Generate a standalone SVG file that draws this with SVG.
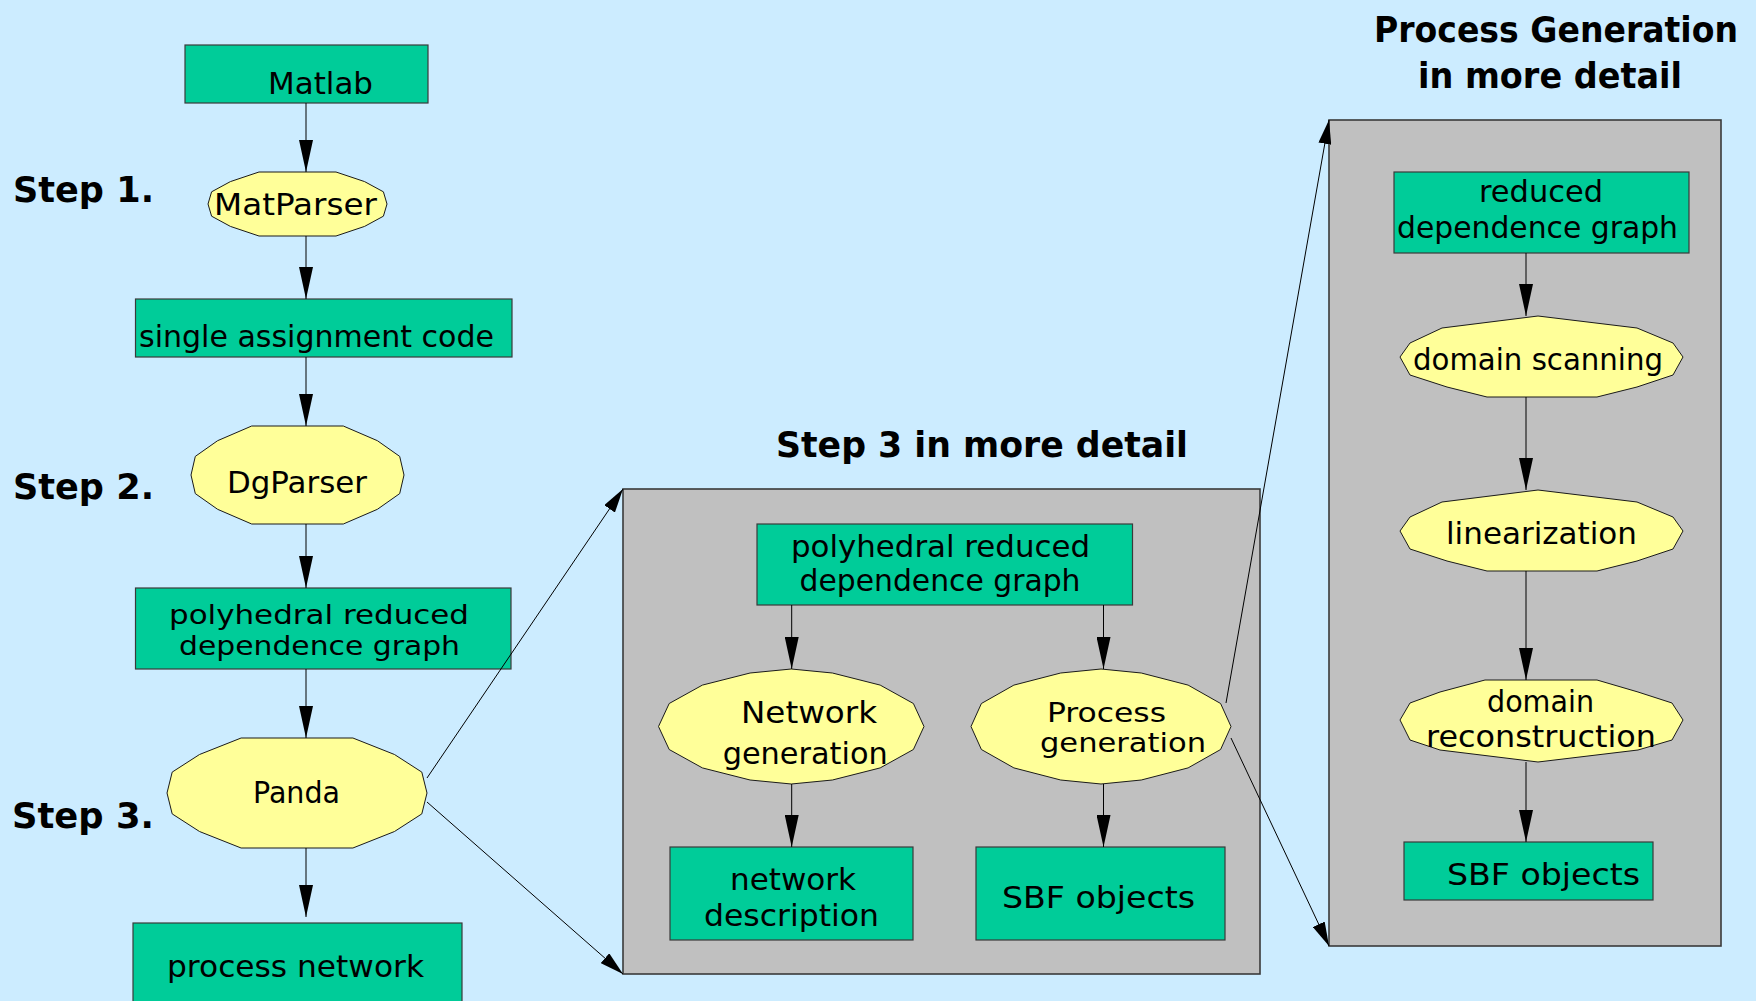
<svg xmlns="http://www.w3.org/2000/svg" width="1756" height="1001" viewBox="0 0 1756 1001">
  <style>
    .bg { fill: #ccecff; }
    .data { fill: #00cc99; stroke: #3a3a3a; stroke-width: 1.2; }
    .tool { fill: #ffff99; stroke: #1a1a1a; stroke-width: 1; }
    .panel { fill: #c0c0c0; stroke: #3a3a3a; stroke-width: 1.6; }
    .lbl { font-family: "Comic Sans MS", "DejaVu Sans", sans-serif; font-size: 30px; fill: #000; }
    .tight { font-size: 27px; }
    .head { font-family: "Comic Sans MS", "DejaVu Sans", sans-serif; font-size: 35px; font-weight: bold; fill: #000; }
    .edge { stroke: #000; stroke-width: 1; fill: none; marker-end: url(#ah); }
    .zoom { stroke: #000; stroke-width: 1; fill: none; marker-end: url(#ahs); }
  </style>
  <defs>
    <marker id="ah" viewBox="0 0 32 14" refX="32" refY="7" markerWidth="32" markerHeight="14" markerUnits="userSpaceOnUse" orient="auto">
      <path d="M0,0 L32,7 L0,14 z" fill="#000"/>
    </marker>
    <marker id="ahs" viewBox="0 0 24 13" refX="24" refY="6.5" markerWidth="24" markerHeight="13" markerUnits="userSpaceOnUse" orient="auto">
      <path d="M0,0 L24,6.5 L0,13 z" fill="#000"/>
    </marker>
  </defs>

  <rect class="bg" x="0" y="0" width="1756" height="1001"/>

  <!-- step labels and headings -->
  <text class="head" x="13" y="202" textLength="141" lengthAdjust="spacingAndGlyphs">Step 1.</text>
  <text class="head" x="13" y="499" textLength="141" lengthAdjust="spacingAndGlyphs">Step 2.</text>
  <text class="head" x="12" y="828" textLength="142" lengthAdjust="spacingAndGlyphs">Step 3.</text>
  <text class="head" x="776" y="457" textLength="412" lengthAdjust="spacingAndGlyphs">Step 3 in more detail</text>
  <text class="head" x="1374" y="42" font-size="36" textLength="364" lengthAdjust="spacingAndGlyphs">Process Generation</text>
  <text class="head" x="1418" y="88" font-size="36" textLength="264" lengthAdjust="spacingAndGlyphs">in more detail</text>

  <!-- detail panels -->
  <g id="panel-step3">
    <rect class="panel" x="623" y="489" width="637" height="485"/>
  </g>
  <g id="panel-procgen">
    <rect class="panel" x="1329" y="120" width="392" height="826"/>
  </g>

  <!-- main flow -->
  <g id="matlab">
    <rect class="data" x="185" y="45" width="243" height="58"/>
    <text class="lbl" x="268" y="94" textLength="105" lengthAdjust="spacingAndGlyphs">Matlab</text>
  </g>
  <g id="matparser">
    <polygon class="tool" points="387,204 383.4,216.2 364.6,226.4 336,236 259,236 230.4,226.4 211.6,216.2 208,204 211.6,191.8 230.4,181.6 259,172 336,172 364.6,181.6 383.4,191.8"/>
    <text class="lbl" x="214" y="215" textLength="163" lengthAdjust="spacingAndGlyphs">MatParser</text>
  </g>
  <g id="sac">
    <rect class="data" x="135.5" y="299" width="376.5" height="58"/>
    <text class="lbl" x="139" y="347" textLength="355" lengthAdjust="spacingAndGlyphs">single assignment code</text>
  </g>
  <g id="dgparser">
    <polygon class="tool" points="404,475 399.7,493.6 377.4,509.3 343.3,524 251.7,524 217.6,509.3 195.3,493.6 191,475 195.3,456.4 217.6,440.7 251.7,426 343.3,426 377.4,440.7 399.7,456.4"/>
    <text class="lbl" x="227" y="493" textLength="140" lengthAdjust="spacingAndGlyphs">DgParser</text>
  </g>
  <g id="prdg">
    <rect class="data" x="135.5" y="588" width="375.5" height="81"/>
    <text class="lbl tight" x="169" y="624" textLength="300" lengthAdjust="spacingAndGlyphs">polyhedral reduced</text>
    <text class="lbl tight" x="179" y="655" textLength="281" lengthAdjust="spacingAndGlyphs">dependence graph</text>
  </g>
  <g id="panda">
    <polygon class="tool" points="427,793 421.8,813.9 394.5,831.5 352.9,848 241.1,848 199.5,831.5 172.2,813.9 167,793 172.2,772.1 199.5,754.5 241.1,738 352.9,738 394.5,754.5 421.8,772.1"/>
    <text class="lbl" x="253" y="803" textLength="87" lengthAdjust="spacingAndGlyphs">Panda</text>
  </g>
  <g id="process-network">
    <rect class="data" x="133" y="923" width="329" height="90"/>
    <text class="lbl" x="167" y="977" textLength="257" lengthAdjust="spacingAndGlyphs">process network</text>
  </g>

  <!-- step 3 detail -->
  <g id="s3-prdg">
    <rect class="data" x="757" y="524" width="375.5" height="81"/>
    <text class="lbl" x="791" y="557" textLength="299" lengthAdjust="spacingAndGlyphs">polyhedral reduced</text>
    <text class="lbl" x="799.5" y="591" textLength="281" lengthAdjust="spacingAndGlyphs">dependence graph</text>
  </g>
  <g id="s3-netgen">
    <polygon class="tool" points="924,726.5 913.4,749.5 880.2,767.9 832.4,780 791.3,784 750.1,780 702.4,767.9 669.2,749.5 658.5,726.5 669.2,703.5 702.4,685.1 750.1,673 791.3,669 832.4,673 880.2,685.1 913.4,703.5"/>
    <text class="lbl" x="741" y="723" textLength="136" lengthAdjust="spacingAndGlyphs">Network</text>
    <text class="lbl" x="722.7" y="764" textLength="165" lengthAdjust="spacingAndGlyphs">generation</text>
  </g>
  <g id="s3-procgen">
    <polygon class="tool" points="1231,726.5 1220.6,749.5 1188.1,767.9 1141.3,780 1101,784 1060.7,780 1013.9,767.9 981.4,749.5 971,726.5 981.4,703.5 1013.9,685.1 1060.7,673 1101,669 1141.3,673 1188.1,685.1 1220.6,703.5"/>
    <text class="lbl tight" x="1047" y="722" textLength="119" lengthAdjust="spacingAndGlyphs">Process</text>
    <text class="lbl tight" x="1040" y="752" textLength="166" lengthAdjust="spacingAndGlyphs">generation</text>
  </g>
  <g id="s3-netdesc">
    <rect class="data" x="670" y="847" width="243" height="93"/>
    <text class="lbl" x="730" y="890" textLength="126" lengthAdjust="spacingAndGlyphs">network</text>
    <text class="lbl" x="704" y="925.5" textLength="175" lengthAdjust="spacingAndGlyphs">description</text>
  </g>
  <g id="s3-sbf">
    <rect class="data" x="976" y="847" width="249" height="93"/>
    <text class="lbl" x="1002" y="908" textLength="193" lengthAdjust="spacingAndGlyphs">SBF objects</text>
  </g>

  <!-- process generation detail -->
  <g id="pg-rdg">
    <rect class="data" x="1394" y="172" width="295" height="81"/>
    <text class="lbl" x="1479" y="202" textLength="124" lengthAdjust="spacingAndGlyphs">reduced</text>
    <text class="lbl" x="1397" y="238" textLength="281" lengthAdjust="spacingAndGlyphs">dependence graph</text>
  </g>
  <g id="pg-scan">
    <polygon class="tool" points="1538,316 1637,328 1673,343 1683,357 1673,375 1637,387 1597,397 1487,397 1447,387 1410,375 1400,357 1410,343 1442,328"/>
    <text class="lbl" x="1413" y="370" textLength="250" lengthAdjust="spacingAndGlyphs">domain scanning</text>
  </g>
  <g id="pg-lin">
    <polygon class="tool" points="1538,490 1637,502 1673,517 1683,531 1673,549 1637,561 1597,571 1487,571 1447,561 1410,549 1400,531 1410,517 1442,502"/>
    <text class="lbl" x="1446" y="544" textLength="191" lengthAdjust="spacingAndGlyphs">linearization</text>
  </g>
  <g id="pg-recon">
    <polygon class="tool" points="1485,680 1597,680 1638,692 1672,703 1683,720 1672,740 1638,750 1538,762 1440,750 1410,740 1400,720 1410,703 1440,692"/>
    <text class="lbl" x="1487" y="712" textLength="107" lengthAdjust="spacingAndGlyphs">domain</text>
    <text class="lbl" x="1426" y="747" textLength="230" lengthAdjust="spacingAndGlyphs">reconstruction</text>
  </g>
  <g id="pg-sbf">
    <rect class="data" x="1404" y="842" width="249" height="58"/>
    <text class="lbl" x="1447" y="885" textLength="193" lengthAdjust="spacingAndGlyphs">SBF objects</text>
  </g>

  <!-- connectors -->
  <g id="connectors">
    <line class="edge" x1="306" y1="103" x2="306" y2="172"/>
    <line class="edge" x1="306" y1="236" x2="306" y2="299"/>
    <line class="edge" x1="306" y1="357" x2="306" y2="426"/>
    <line class="edge" x1="306" y1="524" x2="306" y2="588"/>
    <line class="edge" x1="306" y1="669" x2="306" y2="738"/>
    <line class="edge" x1="306" y1="848" x2="306" y2="917"/>

    <line class="edge" x1="791.7" y1="605" x2="791.7" y2="669"/>
    <line class="edge" x1="1103.5" y1="605" x2="1103.5" y2="669"/>
    <line class="edge" x1="791.7" y1="784" x2="791.7" y2="847"/>
    <line class="edge" x1="1103.5" y1="784" x2="1103.5" y2="847"/>

    <line class="edge" x1="1526" y1="253" x2="1526" y2="316"/>
    <line class="edge" x1="1526" y1="397" x2="1526" y2="490"/>
    <line class="edge" x1="1526" y1="571" x2="1526" y2="680"/>
    <line class="edge" x1="1526" y1="762" x2="1526" y2="842"/>

    <line class="zoom" x1="427" y1="778" x2="623" y2="489"/>
    <line class="zoom" x1="427" y1="802" x2="623" y2="974"/>
    <line class="zoom" x1="1226" y1="703" x2="1329" y2="120"/>
    <line class="zoom" x1="1231" y1="738" x2="1329" y2="946"/>
  </g>
</svg>
